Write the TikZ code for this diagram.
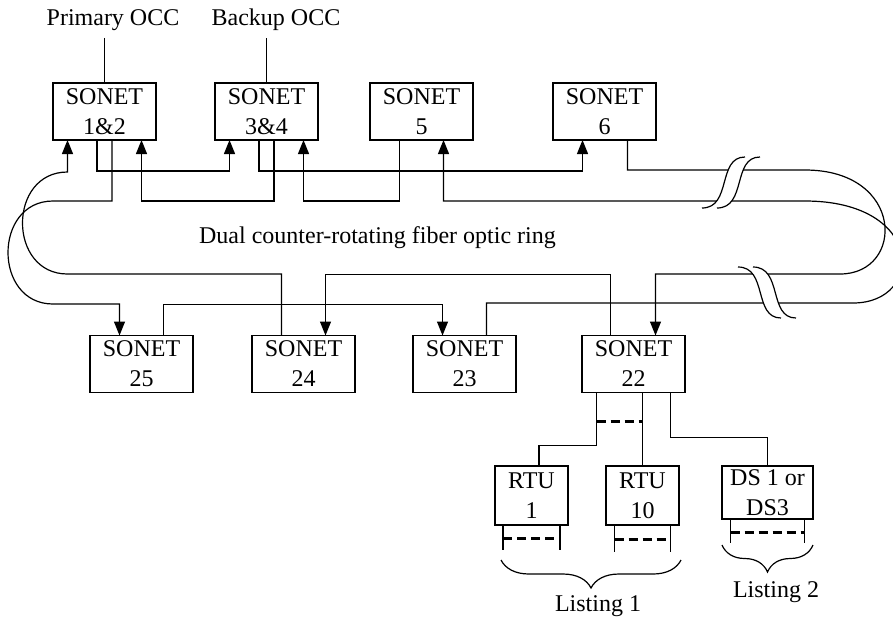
\documentclass[tikz,border=0pt]{standalone}
\usepackage{fontspec}
\setmainfont{Liberation Serif}
\usetikzlibrary{arrows.meta,positioning,calc,decorations.pathreplacing}

\begin{document}
\begin{tikzpicture}[x=0.5pt,y=-0.5pt,line width=0.6pt,font=\fontsize{12}{15}\selectfont,
  sonet/.style={draw,align=center,inner sep=0pt,outer sep=0pt,minimum width=51.5pt,minimum height=28.5pt},
  unit/.style={draw,align=center,inner sep=0pt,outer sep=0pt,minimum width=36.5pt,minimum height=29.5pt},
  fibre/.style={-{Triangle[length=7pt,width=5.5pt]}},
  tap/.style={line width=1.5pt,dash pattern=on 4.5pt off 2.5pt},
  listing/.style={decorate,decoration={brace,mirror,amplitude=#1}}]
\useasboundingbox (0,0) rectangle (893,617);
\clip (0,0) rectangle (893,617);
\node (pocc) at (113,20) {Primary OCC};
\node (bocc) at (276,20) {Backup OCC};
\node[sonet] (s12) at (104.5,111.5) {SONET\\1\&2};
\node[sonet,right=29.5pt of s12] (s34) {SONET\\3\&4};
\node[sonet,right=26pt of s34] (s5) {SONET\\5};
\node[sonet,right=40pt of s5] (s6) {SONET\\6};
\node[sonet] (s25) at (141.5,364) {SONET\\25};
\node[sonet,right=29.5pt of s25] (s24) {SONET\\24};
\node[sonet,right=29pt of s24] (s23) {SONET\\23};
\node[sonet,right=33pt of s23] (s22) {SONET\\22};
\node (ring) at (377.5,238) {Dual counter-rotating fiber optic ring};
\node[unit] (rtu1) at (531.5,495.5) {RTU\\1};
\node[unit] (rtu10) at (642.5,495.5) {RTU\\10};
\node[unit,minimum width=45.5pt,minimum height=26.5pt] (ds) at (767.5,492.5) {DS 1 or\\DS3};
\draw (pocc.south -| s12.north) -- (s12.north);
\draw (bocc.south -| s34.north) -- (s34.north);
% first ring
\draw[fibre] ([xshift=-3.75pt]s12.south) -- ++(0,31) -| ([xshift=-18.5pt]s34.south);
\draw[fibre] ([xshift=-3.75pt]s34.south) -- ++(0,31) -| ([xshift=-11pt]s6.south);
\draw[fibre] ([xshift=11.5pt]s6.south) |- (805,170) .. controls (905,170) and (905,274) .. (840,274) -| ([xshift=11pt]s22.north);
\draw[fibre] ([xshift=-11.5pt]s22.north) -- ++(0,-61) -| ([xshift=11pt]s24.north);
\draw[fibre] ([xshift=-11pt]s24.north) |- (67.5,274) .. controls (7.5,274) and (7.5,172) .. (67.5,172) -- ([xshift=-18.5pt]s12.south);
% second ring
\draw[fibre] ([xshift=3.75pt]s12.south) |- (53,201) .. controls (-7,201) and (-7,304) .. (53,304) -| ([xshift=-11pt]s25.north);
\draw[fibre] ([xshift=11pt]s25.north) -- ++(0,-31) -| ([xshift=-11pt]s23.north);
\draw[fibre] ([xshift=11pt]s23.north) |- (853,303) .. controls (925,303) and (925,201) .. (805,201) -| ([xshift=11pt]s5.south);
\draw[fibre] ([xshift=-11pt]s5.south) -- ++(0,61) -| ([xshift=18.5pt]s34.south);
\draw[fibre] ([xshift=3.75pt]s34.south) -- ++(0,61) -| ([xshift=18.5pt]s12.south);
\foreach \bx/\by/\bs in {702/208/1,738/267/-1}{
  \begin{scope}[shift={(\bx,\by)},yscale=\bs]
  \fill[white] (0,0) .. controls (30,0) and (15,-51) .. (43,-51) -- (58,-51) .. controls (30,-51) and (45,0) .. (15,0) -- cycle;
  \draw (0,0) .. controls (30,0) and (15,-51) .. (43,-51) (15,0) .. controls (45,0) and (30,-51) .. (58,-51);
  \end{scope}}
% drops
\draw ([xshift=-18.5pt]s22.south) -- ++(0,53) -| ([xshift=3.75pt]rtu1.north);
\draw (rtu10.north |- s22.south) -- (rtu10.north);
\draw ([xshift=18.5pt]s22.south) -- ++(0,45) -| (ds.north);
\draw[tap] ($(s22.south)+(-37,29)$) -- ($(rtu10.north |- s22.south)+(0,29)$);
\foreach \n/\w/\l in {rtu1/28.5/25,rtu10/28/27,ds/37/24}{
  \draw ($(\n.south)+(-\w,0)$) -- ++(0,\l) ($(\n.south)+(\w,0)$) -- ++(0,\l);
  \draw[tap] ($(\n.south)+(-\w,0.55*\l)$) -- ($(\n.south)+(\w,0.55*\l)$);
}
\draw[listing=14pt] (501,560) -- (681,560);
\draw[listing=13.5pt] (722,545) -- (813,545);
\node (lst1) at (598,606) {Listing 1};
\node (lst2) at (776,592) {Listing 2};
\end{tikzpicture}
\end{document}
